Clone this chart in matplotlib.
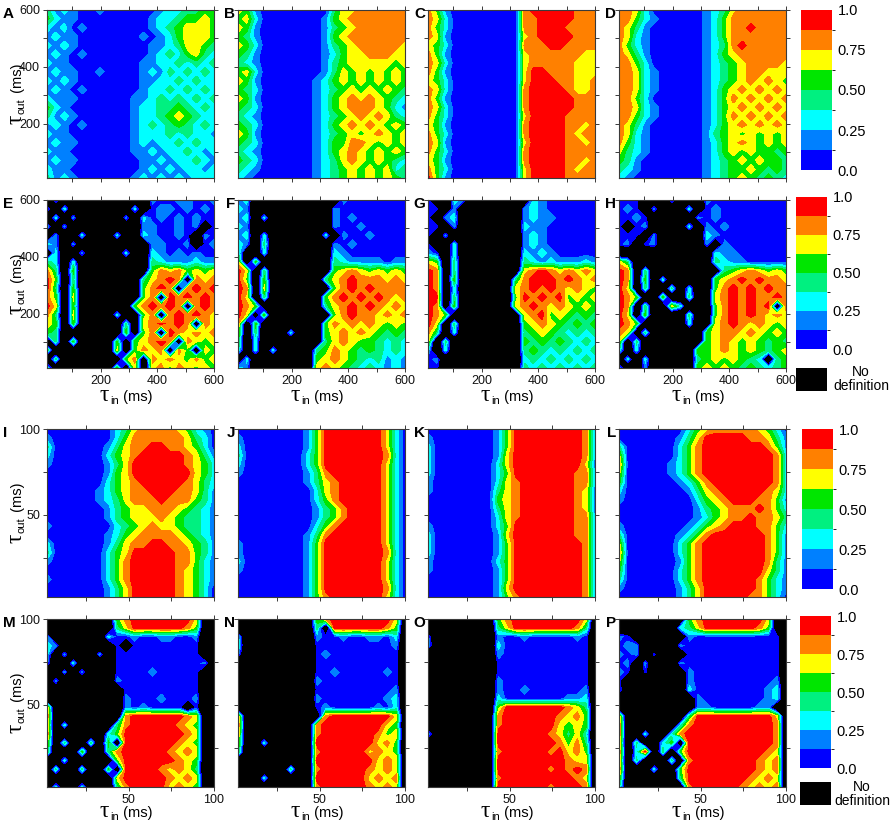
import numpy as np
import matplotlib
matplotlib.use("Agg")
import matplotlib.pyplot as plt
from matplotlib.colors import ListedColormap, BoundaryNorm
from matplotlib.patches import Rectangle

plt.rcParams['font.family'] = ['Liberation Sans', 'DejaVu Sans']

# ---------------- data (digits = colour band 0..7, x = no definition) -------------
PANEL_A = [
 "31210010000001223344", "42110000000012234454", "21201000000012345554", "12110000000101245554",
 "21210000000011235543", "12101000000012324532", "21100000000112232323", "12110010000121323232",
 "21210000000112232322", "12101000000122323232", "21110000001123232323", "42100000001223343232",
 "31210000001223454322", "12101000001232343232", "21100000001222323221", "12110000001212232322",
 "21100000001121223212", "12110000000112122321", "21100000000121212212", "31210000001212121222"]
PANEL_B = [
 "54100000000355666666", "45200000001456666666", "54100000001345666666", "43100000001456666666",
 "54200000001345666665", "43100000001245566655", "32100000001345555545", "45200000001354545454",
 "54100000012454545454", "43200000012345454543", "54100000012456565432", "43200000012456665421",
 "32100000012345656532", "43200000012456565454", "54100000012345456545", "43200000012446654545",
 "32100000012456545454", "43200000012356545432", "32100000012345454523", "21000000012345454543"]
PANEL_C = [
 "64100000000677777666", "65200000000667777666", "64200000000667776666", "65100000000567777666",
 "54200000000666776666", "64100000000566666655", "65200000000566666555", "64100000000577666555",
 "54200000000577766556", "65200000000677776556", "64100000000677777666", "65200000000677777666",
 "64200000000577776666", "54100000000677776656", "64200000000677776566", "65100000000577776656",
 "64200000000677776666", "54100000000677776656", "64200000000577776566", "74100000000577776666"]
PANEL_D = [
 "66520000001235666666", "66421000001246666666", "65310000001246676666", "65210000001246666666",
 "64210000001236766666", "65310000001245666666", "66420000001234566665", "66521000001234566555",
 "66521000001234565654", "66521000001245656565", "66420000001246565656", "66521000001245656565",
 "66421000001246565656", "65310000001245656565", "65210000001345454545", "64210000001245654545",
 "53210000001245454434", "43100000001234545443", "32100000001234454343", "21000000001234543432"]
PANEL_E = [
 "x1xxxxxxxxxx10011001", "1x2xxxxxxx2x01101010", "x2x1xxxxx1x201010100", "2x1xxxxxxxx1100101x0",
 "x1xx2xxx2xx210010x10", "21x1xxxxxxxx11001x01", "x2xx1xxxx2xx21010100", "32x2xxxxxxxx32111211",
 "63x4xxxxxxxx46564545", "74x3xxxxxxx35676x656", "73x4xxxxxxx4676x6767", "64x5xxxxxxx46x767676",
 "75x4xxxxxx467676x676", "63x5xxxx2xx46x676765", "54x4xxxxx3x567676x65", "43xxxxxxx4x46x765656",
 "x3x4xxxx4x45676x6545", "4xxxxxxx5x4656x64x54", "x3xxxxxxx46x65654645", "3xxxxxxx4x5x56465454"]
PANEL_F = [
 "12xxxxxxxxxx10000000", "21xxxxxxxxx100000000", "12x2xxxxxxx101000000", "21xxxxxxxxx100100000",
 "12x2xxxxxx2x10010000", "21x3xxxxxxx101000000", "3xx2xxxxxxx210000000", "5x4xxxxxxxx321111011",
 "75x3xxxxxxx456545454", "74x4xxxxxx3567666565", "76x5xxxxxxx467676666", "75x3xxxxxx4676767656",
 "764xxxxxxx3567676565", "75x4xxxxxxx467665656", "6x4xxxxxxx4656565454", "5x3xxx2xxx4565654343",
 "4x2xxxxxxx3565443232", "3x2x2xxxx34654343232", "x2xxxxxxx45654323121", "21xxxxxxx56543232121"]
PANEL_G = [
 "0xx21xxxxxxx21000000", "00x1xxxxxxx121000000", "0x12xxxxxxx121100000", "00x1xxxxxxx211000000",
 "0x1xxxxxxxx121000000", "0xx2xxxxxxx121000000", "10x2xxxxxxx212100000", "54x3xxxxxxx321211121",
 "76x3xxxxxxx567656565", "76x4xxxxxx3677767656", "76x2xxxxxx5676765654", "77x3xxxxxx4767674545",
 "76x4xxxxxx5676565454", "764xxxxxxxx567454343", "75x3xxxxxxx456543434", "63x2xxxxxxx345432323",
 "5x3xxxxxxxx434343232", "2x2xxxxxxxx343232323", "01xxxxxxxxx232323232", "00xxxxxxxxx323232323"]
PANEL_H = [
 "000xxx1xxx1000000000", "010x1xxx2x0100000000", "0010xxxxx10100000000", "0x01xxxx2x1010000000",
 "000x1xxxxx2100000000", "01x01xxxxx1x10000000", "xxxxxxxxxxx211000000", "53xxxxxxxxx321100000",
 "76x3xxxxxxxx34565454", "76x4x2xxxxx456767665", "75x3xx3x2xx467676766", "764xx4xx3xx567676676",
 "76x3xx52xxx4676767x6", "75x4xxxx3xx467676565", "764xxxxx2xx567656545", "65x3xxxxxx4566565454",
 "5x3xxxxxxx4565454343", "3x2xxxxxx44565454345", "x2x2xxxxx34545432x34", "2xx1xxxxx45454343234"]
PANEL_I = [
 "00000000235666654210", "10000000246666665320", "30000001356677665420", "20000002456777776531",
 "10000001357777776542", "00000001457777777542", "00000002456777776532", "00000012456677766531",
 "00000012356667666431", "00000001345566654321", "00000001345556543321", "10000000234565543321",
 "00000001245666654321", "20000001356677665431", "30000002457777766431", "10000002467777766421",
 "00000002467777765421", "10000002467777765421", "00000001357777765420", "00000001357777765420"]
PANEL_J = [
 "00000000147777777520", "10000000147777777520", "20000000147777777520", "30000000247777777620",
 "20000000247777777520", "10000000136777777520", "00000000135677777520", "00000000025677777520",
 "00000000024677777520", "00000000013467777520", "00000000013467777520", "00000000024677777520",
 "00000000136777777520", "10000000147777777520", "10000000147777777620", "20000000147777777520",
 "10000000147777777520", "00000000147777777520", "00000000147777777620", "00000000146777777520"]
PANEL_K = [
 "00000000147777777761", "10000000147777777761", "20000000147777777761", "20000000157777777761",
 "20000000257777777751", "20000000247777777661", "10000000256777777661", "10000000356777777651",
 "00000000456777777651", "00000000356777777651", "00000000256777777661", "10000000247777777661",
 "20000000157777777661", "20000000147777777761", "20000000147777777761", "10000000247777777761",
 "10000000147777777761", "00000000147777777761", "00000000157777777761", "00000000146777777761"]
PANEL_L = [
 "00000000245666665420", "00000001357777766531", "30000002467777777641", "50000002467777777762",
 "60000012467777777762", "50000012467777777762", "40000001246777777762", "20000000135677777652",
 "10000000024567776641", "00000000013456667642", "00000000012456676653", "10000000124567776642",
 "30000001246777777641", "50000002467777777641", "60000002467777777641", "50000001467777777631",
 "40000002467777777531", "30000002467777776421", "10000001357777776421", "00000001357777766420"]
PANEL_M = [
 "xxxxxxxx4677777775xx", "xxxxxxxx3577777764xx", "1xxxxxx20010011001xx", "21xxxxxx0x00000000xx",
 "2x1xxx1x0000000000xx", "1xx2xxxx00000000001x", "xx1x1xxx0000100000xx", "x1xxxxxx1000000000xx",
 "xxxxxxxxx000000000xx", "xxxxxxxxx100010001xx", "6xxxxxxxx1010000x0xx", "7xxxxxxxx677777765xx",
 "6x2xxxxx3677777654xx", "7xxxxxx24777777765xx", "5x3xx3x4x777777654xx", "4xxx4xx36777776565xx",
 "xx2xxxxx4777777654xx", "x3xx3xx4x777765653xx", "xxxxxxxx5777776565xx", "x2xx2xxx3677775654xx"]
PANEL_N = [
 "xxxxxxxxx4677777775x", "xxxxxxxxx3x77777764x", "2xxxxxxxx1001001102x", "3xxxxxxxx0000000001x",
 "1xxxxxxxx0100000000x", "xxxxxxxxx0000000000x", "xxxxxxxxx0010000010x", "xxxxxxxxx1000000000x",
 "xxxxxxxxx0000000001x", "xxxxxxxxx1000000012x", "xxxxxxxxx0100000102x", "6xxxxxxxxx677777775x",
 "7xxxxxxxx6777777754x", "6xxxxxxxx6777777645x", "5xx2xxxxx7777777564x", "4xxxxxxxx6777775654x",
 "xxxxxxxxx7777777565x", "xxxxxx3xx6777776565x", "xxx2xxxxx7777775656x", "xxxxxxxxx6777776565x"]
PANEL_O = [
 "xxxxxxxx46777777775x", "xxxxxxxx35777777763x", "1xxxxxxx10010000010x", "2xxxxxxx20000000000x",
 "xxxxxxxx10000000000x", "xxxxxxxx00000000000x", "xxxxxxxx00000000000x", "xxxxxxxx10000000000x",
 "xxxxxxxx10010000001x", "xxxxxxxx20000000112x", "xxxxxxxx47777777653x", "xxxxxxxx67777776564x",
 "xxxxxxxx67777775454x", "2xxxxxxx77777765352x", "xxxxxxxx77777776463x", "xxxxxxxx67777767564x",
 "xxxxxxxx77777777655x", "xxxxxxxx77777767676x", "xxxxxxxx67777777765x", "xxxxxxxx77777767776x"]
PANEL_P = [
 "xxxxxxxx4677777775xx", "xxxxxxx23577777764xx", "10xxxxxx10000000000x", "011xxxx100000000000x",
 "101x0xxx00000000000x", "01x1xxx100000000000x", "10x0xxxx10000000000x", "0xxxxxxx10000000001x",
 "1xxxxxxx20000000012x", "xxxxxxxxx1000000012x", "xxxxxxxxx110000011xx", "6xxxxxxx37777777775x",
 "7xxxxxx267777777776x", "7xx2xx2677777777776x", "6x3xx24x77777777776x", "7x27x3x477777777765x",
 "6x3xxx3x67777777656x", "7xxx2xx477777777656x", "5xxxxxx377777776565x", "3xxxxxxx67777765656x"]

PANELS = [PANEL_A, PANEL_B, PANEL_C, PANEL_D, PANEL_E, PANEL_F, PANEL_G, PANEL_H,
          PANEL_I, PANEL_J, PANEL_K, PANEL_L, PANEL_M, PANEL_N, PANEL_O, PANEL_P]
LETTERS = list("ABCDEFGHIJKLMNOP")

TOP_RANGE = (10, 600)
BOTTOM_RANGE = (2, 100)
TOP_TICKS = [100, 200, 300, 400, 500, 600]
TOP_TICKLABELS = ["", "200", "", "400", "", "600"]
BOT_TICKS = [25, 50, 75, 100]
BOT_TICKLABELS = ["", "50", "", "100"]

BAND_COLORS = ['#0000ff', '#0080ff', '#00ffff', '#00f080', '#00e600', '#ffff00', '#ff8000', '#ff0000']
CB_TICKS = [0.0, 0.25, 0.5, 0.75, 1.0]
CB_LABELS = ["0.0", "0.25", "0.50", "0.75", "1.0"]
ND_VALUE = -0.5

# ---------------------------------------------------------------------------------
W, H = 892, 830
fig = plt.figure(figsize=(W / 100, H / 100), dpi=100)

COL_X = [47, 238, 428, 619]
ROW_Y = [10, 200, 429, 619]
AW, AH = 167, 168


def decode(rows):
    out = []
    for r in rows:
        r = (r + r[-1] * 20)[:20]
        out.append([ND_VALUE if ch == 'x' else (int(ch) + 0.5) / 8.0 for ch in r])
    return np.array(out)[::-1]


def tau_xlabel(ax, sub, yfrac, shift):
    t1 = ax.annotate('τ', xy=(0.5, yfrac), xycoords='axes fraction', xytext=(shift, 0),
                     textcoords='offset pixels', ha='left', va='baseline',
                     fontsize=17, family='Liberation Serif', annotation_clip=False)
    t2 = ax.annotate(sub, xy=(1, yfrac), xycoords=(t1, 'axes fraction'), xytext=(1, -3),
                     textcoords='offset pixels', ha='left', va='baseline', fontsize=8,
                     annotation_clip=False)
    ax.annotate(' (ms)', xy=(1, yfrac), xycoords=(t2, 'axes fraction'),
                ha='left', va='baseline', fontsize=10.5, annotation_clip=False)


def tau_ylabel(ax, sub, xfrac, shift):
    kw = dict(rotation=90, rotation_mode='anchor', ha='left', va='baseline', annotation_clip=False)
    t1 = ax.annotate('τ', xy=(xfrac, 0.5), xycoords='axes fraction', xytext=(0, shift),
                     textcoords='offset pixels', fontsize=17, family='Liberation Serif', **kw)
    t2 = ax.annotate(sub, xy=(xfrac, 1), xycoords=('axes fraction', t1), xytext=(3, 1),
                     textcoords='offset pixels', fontsize=8, **kw)
    ax.annotate(' (ms)', xy=(xfrac, 1), xycoords=('axes fraction', t2), xytext=(0, 1),
                textcoords='offset pixels', fontsize=10.5, **kw)


levels = [-1.0] + list(np.linspace(0, 1, 9))
colors = ['black'] + BAND_COLORS
spine_c = '#3a3a3a'

for i, rows in enumerate(PANELS):
    r, c = divmod(i, 4)
    x0, y0 = COL_X[c], ROW_Y[r]
    ax = fig.add_axes([x0 / W, 1 - (y0 + AH) / H, AW / W, AH / H])
    rng = TOP_RANGE if r < 2 else BOTTOM_RANGE
    Z = decode(rows)
    xs = np.linspace(rng[0], rng[1], Z.shape[1])
    ys = np.linspace(rng[0], rng[1], Z.shape[0])
    ax.contourf(xs, ys, Z, levels=levels, colors=colors)
    ax.set_xlim(*rng)
    ax.set_ylim(*rng)
    ticks, tl = (TOP_TICKS, TOP_TICKLABELS) if r < 2 else (BOT_TICKS, BOT_TICKLABELS)
    ax.set_xticks(ticks)
    ax.set_yticks(ticks)
    ax.set_xticklabels(tl if r in (1, 3) else [""] * len(ticks))
    ax.set_yticklabels(tl if c == 0 else [""] * len(ticks))
    ax.tick_params(direction='out', length=3, width=0.7, top=True, right=True,
                   labelsize=9, colors=spine_c, labelcolor='#111111', pad=2)
    for s in ax.spines.values():
        s.set_color(spine_c)
        s.set_linewidth(0.8)
    if c == 0:
        tau_ylabel(ax, 'out', (22 - x0) / AW, -30)
    if r in (1, 3):
        tau_xlabel(ax, 'in', -0.196 if r == 1 else -0.18, -31)
    if c == 0:
        fig.text(3 / W, 1 - (y0 - 3) / H, LETTERS[i], fontsize=11, fontweight='bold',
                 ha='left', va='top')
    else:
        fig.text((x0 - 3) / W, 1 - (y0 - 3) / H, LETTERS[i], fontsize=11, fontweight='bold',
                 ha='right', va='top')

# colour bars
cmap8 = ListedColormap(BAND_COLORS)
norm8 = BoundaryNorm(np.linspace(0, 1, 9), 8)
CBARS = [(801, 10, 160), (796, 197, 152), (802, 429, 160), (800, 616, 152)]
ND_BOXES = [(796, 368, 23, 861), (800, 782, 23, 862)]
for (cx, cy, ch) in CBARS:
    cax = fig.add_axes([cx / W, 1 - (cy + ch) / H, 31 / W, ch / H])
    sm = plt.cm.ScalarMappable(cmap=cmap8, norm=norm8)
    cb = fig.colorbar(sm, cax=cax, ticks=CB_TICKS)
    cb.ax.set_yticklabels(CB_LABELS)
    cb.outline.set_visible(False)
    cax.tick_params(length=0, labelsize=10.5, pad=4)

for (bx, by, bh, tx) in ND_BOXES:
    fig.patches.append(Rectangle((bx / W, 1 - (by + bh) / H), 31 / W, bh / H,
                                 transform=fig.transFigure, facecolor='black', edgecolor='none'))
    fig.text(tx / W, 1 - (by + bh / 2) / H, "No\ndefinition", fontsize=10,
             ha='center', va='center', linespacing=1.0)

fig.savefig("out.png", dpi=100)
